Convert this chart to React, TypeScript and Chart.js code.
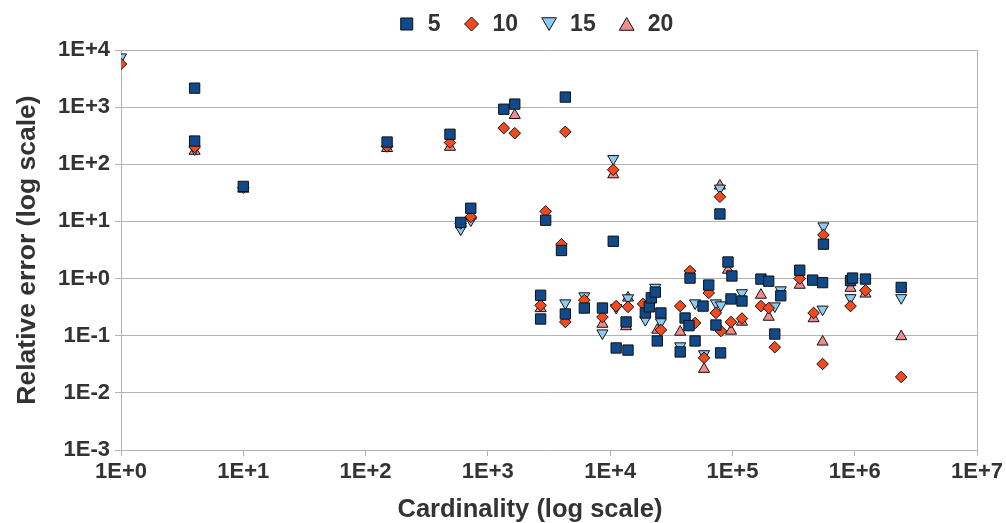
import React, { useEffect, useRef } from 'react';
import { Chart, registerables } from 'chart.js';
import { drawPoint } from 'chart.js/helpers';

Chart.register(...registerables);

// ---- data ----
const seriesLabels = ['5', '10', '15', '20'];

const series5: [number, number][] = [
  [4, 2150], [4, 255], [10, 41], [150, 245], [490, 335], [600, 9.6], [725, 17],
  [1350, 920], [1660, 1130], [4300, 1500], [2970, 10.5], [4000, 3.1], [10600, 4.5],
  [79000, 13.5], [555000, 4.0],
  [2700, 0.51], [2700, 0.196], [4300, 0.24], [6150, 0.305], [8650, 0.305], [11200, 0.061],
  [14000, 0.056], [13500, 0.174], [19400, 0.25], [20900, 0.32], [21700, 0.46], [23400, 0.58],
  [26000, 0.25], [24300, 0.081], [37400, 0.052], [41000, 0.204], [44100, 0.15], [45000, 1.02],
  [49500, 0.081], [57500, 0.33], [64000, 0.77], [73300, 0.154], [80000, 0.05], [92000, 1.95],
  [99000, 1.11], [97300, 0.44], [119700, 0.405], [171000, 0.98], [198000, 0.9], [222000, 0.107],
  [248500, 0.5], [355000, 1.4], [453000, 0.94], [546000, 0.85], [924000, 0.92], [960000, 1.02],
  [1224000, 0.98], [2400000, 0.7],
];

const series10: [number, number][] = [
  [1, 5700], [4, 200], [10, 39], [150, 205], [490, 240], [600, 9.2], [725, 12], [1350, 430],
  [1660, 350], [4300, 370], [2970, 15], [4000, 4.0], [10600, 80], [79000, 27], [555000, 5.8],
  [2700, 0.34], [4300, 0.174], [6150, 0.42], [8650, 0.212], [11200, 0.33], [14000, 0.32],
  [18600, 0.36], [26000, 0.126], [37400, 0.33], [45000, 1.35], [49500, 0.167], [58600, 0.041],
  [64000, 0.56], [73300, 0.25], [80500, 0.121], [97300, 0.174], [119700, 0.2], [171000, 0.33],
  [198000, 0.305], [222000, 0.063], [355000, 1.0], [461000, 0.25], [546000, 0.032],
  [924000, 0.33], [1224000, 0.62], [2400000, 0.019],
];

const series15: [number, number][] = [
  [1, 7500], [4, 185], [600, 7.3], [725, 10.5], [10600, 125], [79000, 38], [555000, 8.3],
  [4300, 0.373], [6150, 0.495], [8650, 0.111], [11200, 0.31], [14000, 0.457], [19400, 0.19],
  [23400, 0.7], [26000, 0.174], [37400, 0.066], [49500, 0.373], [58600, 0.048], [73300, 0.373],
  [80500, 0.344], [119700, 0.56], [222000, 0.33], [248500, 0.63], [546000, 0.29],
  [924000, 0.46], [2400000, 0.46],
];

const series20: [number, number][] = [
  [4, 170], [10, 37], [150, 190], [490, 200], [725, 12.5], [1660, 720], [10600, 66], [79000, 42],
  [2700, 0.30], [8650, 0.16], [14000, 0.46], [13500, 0.145], [24300, 0.126], [37400, 0.116],
  [58600, 0.026], [92000, 1.41], [97300, 0.121], [119700, 0.174], [171000, 0.515],
  [198000, 0.212], [355000, 0.77], [461000, 0.2], [546000, 0.078], [924000, 0.68],
  [1224000, 0.54], [2400000, 0.097],
];

const xTickExponents = [0, 1, 2, 3, 4, 5, 6, 7];
const yTickExponents = [-3, -2, -1, 0, 1, 2, 3, 4];
const xTitle = 'Cardinality (log scale)';
const yTitle = 'Relative error (log scale)';

// ---- styles ----
const FONT = '"Liberation Sans", Arial, sans-serif';
const TEXT = '#333333';
const GRID = '#b3b3b3';
const COLORS = ['#104a8b', '#f04a1e', '#8ccbf2', '#f28b8c'];
const STYLES = ['rect', 'rectRot', 'triangle', 'triangle'];
const ROTATIONS = [0, 0, 180, 0];
const RADII = [7.3, 5.8, 6.4, 6.4];
const LEGEND_RADII = [8.5, 7, 8.5, 8.5];
const LEGEND_CENTER = 535;
const LEGEND_Y = 24;
const XTITLE_CENTER = 530;
const XTITLE_Y = 510;

const fmt = (v: number) => {
  const e = Math.round(Math.log10(v));
  return `1E${e < 0 ? '-' : '+'}${Math.abs(e)}`;
};

const legendPlugin = {
  id: 'customLegend',
  afterDraw(chart: any) {
    const ctx = chart.ctx as CanvasRenderingContext2D;
    ctx.save();
    ctx.font = `bold 23px ${FONT}`;
    const box = 20, gap = 11, pad = 21, y = LEGEND_Y;
    const dss = chart.data.datasets;
    const widths = dss.map((ds: any) => ctx.measureText(ds.label).width);
    const total = widths.reduce((a: number, w: number) => a + box + gap + w, 0) + pad * (widths.length - 1);
    let x = LEGEND_CENTER - total / 2;
    dss.forEach((ds: any, i: number) => {
      ctx.fillStyle = ds.backgroundColor;
      ctx.strokeStyle = ds.borderColor;
      ctx.lineWidth = 1;
      drawPoint(ctx, { pointStyle: ds.pointStyle, rotation: ds.pointRotation || 0, radius: LEGEND_RADII[i], borderWidth: 1 } as any, x + box / 2, y + (ds.pointStyle === 'triangle' ? (ds.pointRotation ? -2 : 2) : 0));
      ctx.fillStyle = TEXT;
      ctx.textBaseline = 'middle';
      ctx.textAlign = 'left';
      ctx.fillText(ds.label, x + box + gap, y + 1);
      x += box + gap + widths[i] + pad;
    });
    // x-axis title
    ctx.font = `bold 25.5px ${FONT}`;
    ctx.textAlign = 'center';
    ctx.textBaseline = 'middle';
    ctx.fillStyle = TEXT;
    ctx.fillText(xTitle, XTITLE_CENTER, XTITLE_Y);
    ctx.restore();
  },
};

export default function App() {
  const ref = useRef<HTMLCanvasElement | null>(null);

  useEffect(() => {
    document.body.style.margin = '0';
    const canvas = ref.current;
    if (!canvas) return;
    const all = [series5, series10, series15, series20];
    const datasets = all.map((s, i) => ({
      label: seriesLabels[i],
      data: s.map(([x, y]) => ({ x, y })),
      backgroundColor: COLORS[i],
      borderColor: '#111111',
      borderWidth: 1,
      pointStyle: STYLES[i],
      pointRotation: ROTATIONS[i],
      pointRadius: RADII[i],
      pointHoverRadius: RADII[i],
      showLine: false,
    }));

    const tickFont = { family: FONT, size: 22, weight: 'bold' as const };
    const titleFont = { family: FONT, size: 26.5, weight: 'bold' as const, lineHeight: 1 };

    const chart = new Chart(canvas, {
      type: 'scatter',
      data: { datasets } as any,
      options: {
        responsive: false,
        animation: false,
        devicePixelRatio: 1,
        events: [],
        layout: { padding: { left: 0, right: 26, top: 50, bottom: 0 } },
        plugins: { legend: { display: false }, tooltip: { enabled: false } },
        scales: {
          x: {
            type: 'logarithmic',
            position: 'bottom',
            min: 1,
            max: 1e7,
            afterBuildTicks: (s: any) => { s.ticks = xTickExponents.map((e) => ({ value: Math.pow(10, e) })); },
            afterFit: (s: any) => { s.height = 73; },
            ticks: { callback: (v: any) => fmt(Number(v)), font: tickFont, color: TEXT, padding: 3, autoSkip: false, maxRotation: 0 },
            grid: {
              color: (c: any) => (c.tick && Math.abs(c.tick.value - 1e7) < 1 ? GRID : 'rgba(0,0,0,0)'),
              tickColor: GRID,
              tickLength: 6,
              drawOnChartArea: true,
            },
            border: { color: GRID },
            title: { display: false },
          },
          y: {
            type: 'logarithmic',
            min: 1e-3,
            max: 1e4,
            afterBuildTicks: (s: any) => { s.ticks = yTickExponents.map((e) => ({ value: Math.pow(10, e) })); },
            afterFit: (s: any) => { s.width = 121; },
            ticks: { callback: (v: any) => fmt(Number(v)), font: tickFont, color: TEXT, padding: 5, autoSkip: false },
            grid: { color: GRID, tickColor: GRID, tickLength: 6 },
            border: { color: GRID },
            title: { display: true, text: yTitle, font: titleFont, color: TEXT, padding: { top: 14, bottom: 0 } },
          },
        },
      } as any,
      plugins: [legendPlugin],
    });
    return () => chart.destroy();
  }, []);

  return (
    <div style={{ width: 1006, height: 523 }}>
      <canvas ref={ref} width={1006} height={523} style={{ display: 'block' }} />
    </div>
  );
}
